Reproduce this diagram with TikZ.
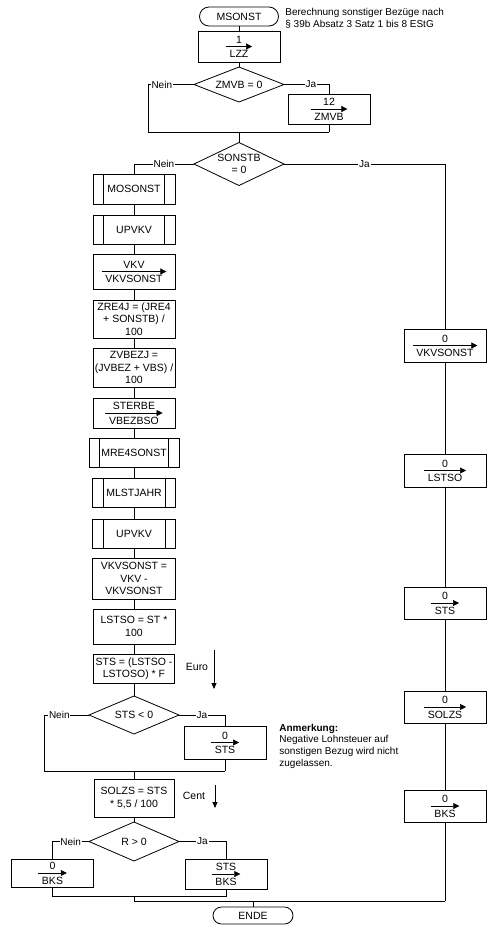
\documentclass[tikz,border=0pt]{standalone}
\usepackage{fontspec}
\setmainfont{Liberation Sans}
\usetikzlibrary{shapes.geometric,shapes.misc,arrows.meta,fit}
\newcommand\bxf{\fontsize{10.5}{12.3}\selectfont}
\newcommand\lbf{\fontsize{10}{11.7}\selectfont}
\newcommand\asgbox[6]{%
  \node[box, minimum height=#4pt] (#1) at (#2,#3) {};
  \node[atop] (#1t) at (#1.center) {#5};
  \node[abot] (#1b) at (#1.center) {#6};
  \node[fit=(#1t)(#1b), inner sep=0pt] (#1f) {};
  \draw[rulearr] (#1f.west |- #1.center) -- (#1f.east |- #1.center);
}
\begin{document}
\begin{tikzpicture}[x=1pt,y=-1pt, line width=0.8pt,
 box/.style={draw, rectangle, minimum width=82pt, minimum height=30pt, inner sep=0pt, outer sep=0pt, align=center, font=\bxf},
 subbox/.style={box, path picture={\draw[line width=0.8pt]
   ([xshift=10.5pt]path picture bounding box.north west) -- ([xshift=10.5pt]path picture bounding box.south west)
   ([xshift=-10.5pt]path picture bounding box.north east) -- ([xshift=-10.5pt]path picture bounding box.south east);}},
 term/.style={draw, rounded rectangle, minimum width=80pt, minimum height=18pt, inner sep=0pt, outer sep=0pt, font=\bxf},
 dia/.style={draw, diamond, minimum width=90pt, inner sep=0pt, outer sep=0pt},
 dtxt/.style={align=center, font=\bxf, inner sep=0pt},
 atop/.style={anchor=south, yshift=1.2pt, inner xsep=3pt, inner ysep=1.5pt, text depth=0pt, font=\bxf},
 abot/.style={anchor=north, yshift=-1.6pt, inner xsep=3pt, inner ysep=1.5pt, text height=7.6pt, text depth=0pt, font=\bxf},
 rulearr/.style={line width=0.6pt, -{Triangle[length=6pt,width=6pt]}},
 downarr/.style={line width=0.8pt, -{Triangle[length=6pt,width=5pt]}},
 lab/.style={fill=white, inner sep=0.8pt, font=\lbf},
 note/.style={align=left, inner sep=0pt, font=\lbf, anchor=north west},
]
\useasboundingbox (0,0) rectangle (495,938);

% top
\node[term, minimum width=79pt, minimum height=19pt] (ms) at (239,16.5) {MSONST};
\node[note, font=\fontsize{10}{12.6}\selectfont] (ann) at (285,7.5) {Berechnung sonstiger Bezüge nach\\§ 39b Absatz 3 Satz 1 bis 8 EStG};
\asgbox{lzz}{239}{46.5}{31}{1}{LZZ}
\node[dia, minimum height=35pt] (d1) at (239,84.5) {};
\node[dtxt] (d1t) at (d1) {ZMVB = 0};
\asgbox{zmvb}{329}{109}{30}{12}{ZMVB}
\coordinate (j1l) at (148,132);
\coordinate (j1r) at (329,132);
\coordinate (j1) at (239,132);
\node[dia, minimum height=43pt] (d2) at (239,164) {};
\node[dtxt] (d2t) at (d2) {SONSTB\\= 0};

% left column
\node[subbox] (mos) at (134,189) {MOSONST};
\node[subbox, minimum height=29pt] (upv1) at (134,229.5) {UPVKV};
\asgbox{vkv}{134}{271.5}{35}{VKV}{VKVSONST}
\node[box, minimum height=38pt] (zre) at (134,319) {ZRE4J = (JRE4\\+ SONSTB) /\\100};
\node[box, minimum height=39pt] (zvb) at (134,367.5) {ZVBEZJ =\\(JVBEZ + VBS) /\\100};
\asgbox{ster}{134}{413}{30}{STERBE}{VBEZBSO}
\node[subbox, minimum width=90pt, minimum height=29pt] (mre) at (134,452.5) {MRE4SONST};
\node[subbox, minimum width=83pt, minimum height=29pt] (mls) at (134,492.5) {MLSTJAHR};
\node[subbox, minimum width=83pt, minimum height=29pt] (upv2) at (134,533.5) {UPVKV};
\node[box, minimum width=83pt, minimum height=41pt] (vks) at (134,578.5) {VKVSONST =\\VKV -\\VKVSONST};
\node[box, minimum height=35pt] (lso) at (134,626.5) {LSTSO = ST *\\100};
\node[box, minimum width=81pt, minimum height=29pt] (sts) at (134,668.5) {STS = (LSTSO -\\LSTOSO) * F};
\node[font=\bxf, inner sep=0pt] (euro) at (197,667) {Euro};
\coordinate (ea1) at (214,650);
\coordinate (ea2) at (214,689);
\draw[downarr] (ea1) -- (ea2);

\node[dia, minimum height=38pt] (d3) at (134,715) {};
\node[dtxt] (d3t) at (d3) {STS < 0};
\asgbox{stz}{225}{742.5}{33}{0}{STS}
\coordinate (j3l) at (44,771);
\coordinate (j3r) at (225,771);
\coordinate (j3) at (134,771);
\node[note] (anm) at (279,723.5) {\textbf{Anmerkung:}\\Negative Lohnsteuer auf\\sonstigen Bezug wird nicht\\zugelassen.};
\node[box, minimum width=80pt, minimum height=38pt] (sol) at (134,798) {SOLZS = STS\\* 5,5 / 100};
\node[font=\bxf, inner sep=0pt] (cent) at (194,796) {Cent};
\coordinate (ca1) at (215,785);
\coordinate (ca2) at (215,808);
\draw[downarr] (ca1) -- (ca2);

\node[dia, minimum height=39pt] (d4) at (134,841.5) {};
\node[dtxt] (d4t) at (d4) {R > 0};
\asgbox{bkl}{52.5}{873}{28}{0}{BKS}
\asgbox{bkr}{226}{874}{30}{STS}{BKS}
\coordinate (j4l) at (52.5,896);
\coordinate (j4r) at (226,896);
\coordinate (j4) at (134,896);
\coordinate (j5l) at (134,901);
\coordinate (j5r) at (445,901);
\coordinate (j5) at (253,901);
\node[term, minimum width=80pt, minimum height=17pt] (ende) at (253,915.5) {ENDE};

% right column
\asgbox{r1}{445}{345.5}{33}{0}{VKVSONST}
\asgbox{r2}{445}{470.5}{33}{0}{LSTSO}
\asgbox{r3}{445}{603}{32}{0}{STS}
\asgbox{r4}{445}{707}{32}{0}{SOLZS}
\asgbox{r5}{445}{806}{32}{0}{BKS}

% connectors
\draw (ms.south) -- (lzz.north);
\draw (lzz.south) -- (d1.north);
\draw (d1.west) -| node[lab,pos=0.35] (l1) {Nein} (j1l) -- (j1r);
\draw (d1.east) -| node[lab,pos=0.3] (l2) {Ja} (zmvb.north);
\draw (zmvb.south) -- (j1r);
\draw (j1) -- (d2.north);
\draw (d2.west) -| node[lab,pos=0.25] (l3) {Nein} (mos.north);
\draw (d2.east) -| node[lab,pos=0.25] (l4) {Ja} (r1.north);
\draw (mos.south) -- (upv1.north);
\draw (upv1.south) -- (vkv.north);
\draw (vkv.south) -- (zre.north);
\draw (zre.south) -- (zvb.north);
\draw (zvb.south) -- (ster.north);
\draw (ster.south) -- (mre.north);
\draw (mre.south) -- (mls.north);
\draw (mls.south) -- (upv2.north);
\draw (upv2.south) -- (vks.north);
\draw (vks.south) -- (lso.north);
\draw (lso.south) -- (sts.north);
\draw (sts.south) -- (d3.north);
\draw (d3.west) -| node[lab,pos=0.33] (l5) {Nein} (j3l) -- (j3r);
\draw (d3.east) -| node[lab,pos=0.25] (l6) {Ja} (stz.north);
\draw (stz.south) -- (j3r);
\draw (j3) -- (sol.north);
\draw (sol.south) -- (d4.north);
\draw (d4.west) -| node[lab,pos=0.25] (l7) {Nein} (bkl.north);
\draw (d4.east) -| node[lab,pos=0.25] (l8) {Ja} (bkr.north);
\draw (bkl.south) -- (j4l) -- (j4r) -- (bkr.south);
\draw (j4) -- (j5l) -- (j5r);
\draw (r1.south) -- (r2.north);
\draw (r2.south) -- (r3.north);
\draw (r3.south) -- (r4.north);
\draw (r4.south) -- (r5.north);
\draw (r5.south) -- (j5r);
\draw (j5) -- (ende.north);
\end{tikzpicture}
\end{document}
